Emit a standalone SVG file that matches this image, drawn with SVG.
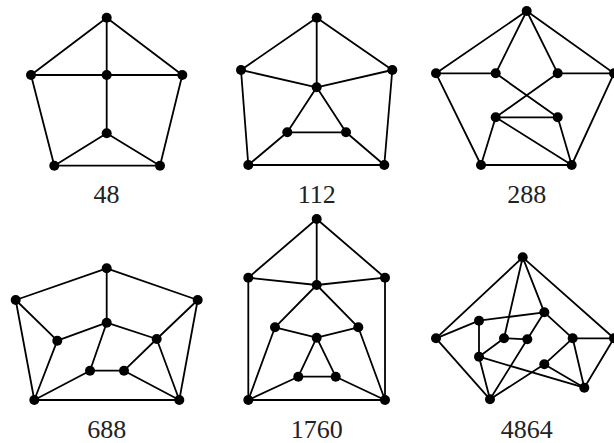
<svg xmlns="http://www.w3.org/2000/svg" width="614" height="443" viewBox="0 0 614 443">
<style>
.e line{stroke:#000;stroke-width:1.8;stroke-linecap:round}
.n circle{fill:#000}
text{font-family:"Liberation Serif","DejaVu Serif",serif;font-size:26px;fill:#222;text-anchor:middle}
</style>
<rect width="614" height="443" fill="#fff"/>
<!-- Graph 1 -->
<g id="g48">
<g class="e">
<line x1="106.7" y1="17.7" x2="31" y2="75"/>
<line x1="106.7" y1="17.7" x2="106.7" y2="75"/>
<line x1="106.7" y1="17.7" x2="182.3" y2="75"/>
<line x1="31" y1="75" x2="182.3" y2="75"/>
<line x1="31" y1="75" x2="54.3" y2="165.7"/>
<line x1="182.3" y1="75" x2="160" y2="165.7"/>
<line x1="106.7" y1="75" x2="106.7" y2="133.3"/>
<line x1="106.7" y1="133.3" x2="54.3" y2="165.7"/>
<line x1="106.7" y1="133.3" x2="160" y2="165.7"/>
<line x1="54.3" y1="165.7" x2="160" y2="165.7"/>
</g>
<g class="n">
<circle id="g48-top" cx="106.7" cy="17.7" r="5"/>
<circle id="g48-l" cx="31" cy="75" r="5"/>
<circle id="g48-c" cx="106.7" cy="75" r="5"/>
<circle id="g48-r" cx="182.3" cy="75" r="5"/>
<circle id="g48-lc" cx="106.7" cy="133.3" r="5"/>
<circle id="g48-bl" cx="54.3" cy="165.7" r="5"/>
<circle id="g48-br" cx="160" cy="165.7" r="5"/>
</g>
<text x="106.5" y="203">48</text>
</g>
<!-- Graph 2 -->
<g id="g112">
<g class="e">
<line x1="316.7" y1="17.7" x2="241" y2="70"/>
<line x1="316.7" y1="17.7" x2="392.3" y2="70"/>
<line x1="316.7" y1="17.7" x2="316.7" y2="87.3"/>
<line x1="241" y1="70" x2="316.7" y2="87.3"/>
<line x1="392.3" y1="70" x2="316.7" y2="87.3"/>
<line x1="241" y1="70" x2="248.3" y2="165"/>
<line x1="392.3" y1="70" x2="384.3" y2="165"/>
<line x1="316.7" y1="87.3" x2="287.3" y2="132.3"/>
<line x1="316.7" y1="87.3" x2="346" y2="132.3"/>
<line x1="287.3" y1="132.3" x2="346" y2="132.3"/>
<line x1="287.3" y1="132.3" x2="248.3" y2="165"/>
<line x1="346" y1="132.3" x2="384.3" y2="165"/>
<line x1="248.3" y1="165" x2="384.3" y2="165"/>
</g>
<g class="n">
<circle cx="316.7" cy="17.7" r="5"/>
<circle cx="241" cy="70" r="5"/>
<circle cx="392.3" cy="70" r="5"/>
<circle cx="316.7" cy="87.3" r="5"/>
<circle cx="287.3" cy="132.3" r="5"/>
<circle cx="346" cy="132.3" r="5"/>
<circle cx="248.3" cy="165" r="5"/>
<circle cx="384.3" cy="165" r="5"/>
</g>
<text x="316.7" y="203">112</text>
</g>
<!-- Graph 3 -->
<g id="g288">
<g class="e">
<line x1="526.7" y1="11" x2="436" y2="73.3"/>
<line x1="526.7" y1="11" x2="495.7" y2="73.3"/>
<line x1="526.7" y1="11" x2="557.7" y2="73.3"/>
<line x1="526.7" y1="11" x2="614" y2="73.3"/>
<line x1="436" y1="73.3" x2="495.7" y2="73.3"/>
<line x1="557.7" y1="73.3" x2="614" y2="73.3"/>
<line x1="436" y1="73.3" x2="481" y2="165"/>
<line x1="614" y1="73.3" x2="571.7" y2="165"/>
<line x1="495.7" y1="73.3" x2="557.7" y2="117.3"/>
<line x1="557.7" y1="73.3" x2="495.7" y2="117.3"/>
<line x1="495.7" y1="117.3" x2="557.7" y2="117.3"/>
<line x1="495.7" y1="117.3" x2="481" y2="165"/>
<line x1="495.7" y1="117.3" x2="571.7" y2="165"/>
<line x1="557.7" y1="117.3" x2="571.7" y2="165"/>
<line x1="481" y1="165" x2="571.7" y2="165"/>
</g>
<g class="n">
<circle cx="526.7" cy="11" r="5"/>
<circle cx="436" cy="73.3" r="5"/>
<circle cx="495.7" cy="73.3" r="5"/>
<circle cx="557.7" cy="73.3" r="5"/>
<circle cx="614" cy="73.3" r="5"/>
<circle cx="495.7" cy="117.3" r="5"/>
<circle cx="557.7" cy="117.3" r="5"/>
<circle cx="481" cy="165" r="5"/>
<circle cx="571.7" cy="165" r="5"/>
</g>
<text x="526.7" y="203">288</text>
</g>
<!-- Graph 4 -->
<g id="g688">
<g class="e">
<line x1="106.7" y1="268.3" x2="15.7" y2="300"/>
<line x1="106.7" y1="268.3" x2="197.7" y2="300"/>
<line x1="106.7" y1="268.3" x2="106.7" y2="322.7"/>
<line x1="15.7" y1="300" x2="57.3" y2="340.7"/>
<line x1="15.7" y1="300" x2="34.3" y2="400"/>
<line x1="197.7" y1="300" x2="156.7" y2="339"/>
<line x1="197.7" y1="300" x2="179.3" y2="400"/>
<line x1="106.7" y1="322.7" x2="57.3" y2="340.7"/>
<line x1="106.7" y1="322.7" x2="156.7" y2="339"/>
<line x1="106.7" y1="322.7" x2="90" y2="370.7"/>
<line x1="57.3" y1="340.7" x2="34.3" y2="400"/>
<line x1="156.7" y1="339" x2="124" y2="370.7"/>
<line x1="156.7" y1="339" x2="179.3" y2="400"/>
<line x1="90" y1="370.7" x2="124" y2="370.7"/>
<line x1="90" y1="370.7" x2="34.3" y2="400"/>
<line x1="124" y1="370.7" x2="179.3" y2="400"/>
<line x1="34.3" y1="400" x2="179.3" y2="400"/>
</g>
<g class="n">
<circle cx="106.7" cy="268.3" r="5"/>
<circle cx="15.7" cy="300" r="5"/>
<circle cx="197.7" cy="300" r="5"/>
<circle cx="106.7" cy="322.7" r="5"/>
<circle cx="57.3" cy="340.7" r="5"/>
<circle cx="156.7" cy="339" r="5"/>
<circle cx="90" cy="370.7" r="5"/>
<circle cx="124" cy="370.7" r="5"/>
<circle cx="34.3" cy="400" r="5"/>
<circle cx="179.3" cy="400" r="5"/>
</g>
<text x="106.7" y="437.5">688</text>
</g>
<!-- Graph 5 -->
<g id="g1760">
<g class="e">
<line x1="316.7" y1="219" x2="248.3" y2="277.7"/>
<line x1="316.7" y1="219" x2="385" y2="277.7"/>
<line x1="316.7" y1="219" x2="316.7" y2="285"/>
<line x1="248.3" y1="277.7" x2="316.7" y2="285"/>
<line x1="385" y1="277.7" x2="316.7" y2="285"/>
<line x1="248.3" y1="277.7" x2="248.3" y2="400"/>
<line x1="385" y1="277.7" x2="385" y2="400"/>
<line x1="316.7" y1="285" x2="275" y2="327.3"/>
<line x1="316.7" y1="285" x2="358.3" y2="327.3"/>
<line x1="275" y1="327.3" x2="316.7" y2="337.7"/>
<line x1="358.3" y1="327.3" x2="316.7" y2="337.7"/>
<line x1="275" y1="327.3" x2="248.3" y2="400"/>
<line x1="358.3" y1="327.3" x2="385" y2="400"/>
<line x1="316.7" y1="337.7" x2="298.3" y2="376.7"/>
<line x1="316.7" y1="337.7" x2="335.7" y2="376.7"/>
<line x1="298.3" y1="376.7" x2="335.7" y2="376.7"/>
<line x1="298.3" y1="376.7" x2="248.3" y2="400"/>
<line x1="335.7" y1="376.7" x2="385" y2="400"/>
<line x1="248.3" y1="400" x2="385" y2="400"/>
</g>
<g class="n">
<circle cx="316.7" cy="219" r="5"/>
<circle cx="248.3" cy="277.7" r="5"/>
<circle cx="385" cy="277.7" r="5"/>
<circle cx="316.7" cy="285" r="5"/>
<circle cx="275" cy="327.3" r="5"/>
<circle cx="358.3" cy="327.3" r="5"/>
<circle cx="316.7" cy="337.7" r="5"/>
<circle cx="298.3" cy="376.7" r="5"/>
<circle cx="335.7" cy="376.7" r="5"/>
<circle cx="248.3" cy="400" r="5"/>
<circle cx="385" cy="400" r="5"/>
</g>
<text x="316.7" y="438">1760</text>
</g>
<!-- Graph 6 -->
<g id="g4864">
<g class="e">
<line x1="522.7" y1="257.3" x2="436" y2="338.3"/>
<line x1="522.7" y1="257.3" x2="614" y2="338.3"/>
<line x1="522.7" y1="257.3" x2="504" y2="338.3"/>
<line x1="522.7" y1="257.3" x2="544.3" y2="312.3"/>
<line x1="436" y1="338.3" x2="479" y2="320.7"/>
<line x1="436" y1="338.3" x2="490" y2="399.3"/>
<line x1="479" y1="320.7" x2="544.3" y2="312.3"/>
<line x1="479" y1="320.7" x2="479" y2="356.7"/>
<line x1="544.3" y1="312.3" x2="527.3" y2="339.3"/>
<line x1="544.3" y1="312.3" x2="572.7" y2="338.3"/>
<line x1="504" y1="338.3" x2="527.3" y2="339.3"/>
<line x1="504" y1="338.3" x2="479" y2="356.7"/>
<line x1="527.3" y1="339.3" x2="490" y2="399.3"/>
<line x1="572.7" y1="338.3" x2="614" y2="338.3"/>
<line x1="572.7" y1="338.3" x2="544.3" y2="364.3"/>
<line x1="572.7" y1="338.3" x2="584.3" y2="387.7"/>
<line x1="479" y1="356.7" x2="490" y2="399.3"/>
<line x1="479" y1="356.7" x2="584.3" y2="387.7"/>
<line x1="544.3" y1="364.3" x2="490" y2="399.3"/>
<line x1="544.3" y1="364.3" x2="584.3" y2="387.7"/>
<line x1="614" y1="338.3" x2="584.3" y2="387.7"/>
</g>
<g class="n">
<circle cx="522.7" cy="257.3" r="5"/>
<circle cx="436" cy="338.3" r="5"/>
<circle cx="614" cy="338.3" r="5"/>
<circle cx="479" cy="320.7" r="5"/>
<circle cx="544.3" cy="312.3" r="5"/>
<circle cx="504" cy="338.3" r="5"/>
<circle cx="527.3" cy="339.3" r="5"/>
<circle cx="572.7" cy="338.3" r="5"/>
<circle cx="479" cy="356.7" r="5"/>
<circle cx="544.3" cy="364.3" r="5"/>
<circle cx="584.3" cy="387.7" r="5"/>
<circle cx="490" cy="399.3" r="5"/>
</g>
<text x="526.7" y="437.5">4864</text>
</g>
</svg>
